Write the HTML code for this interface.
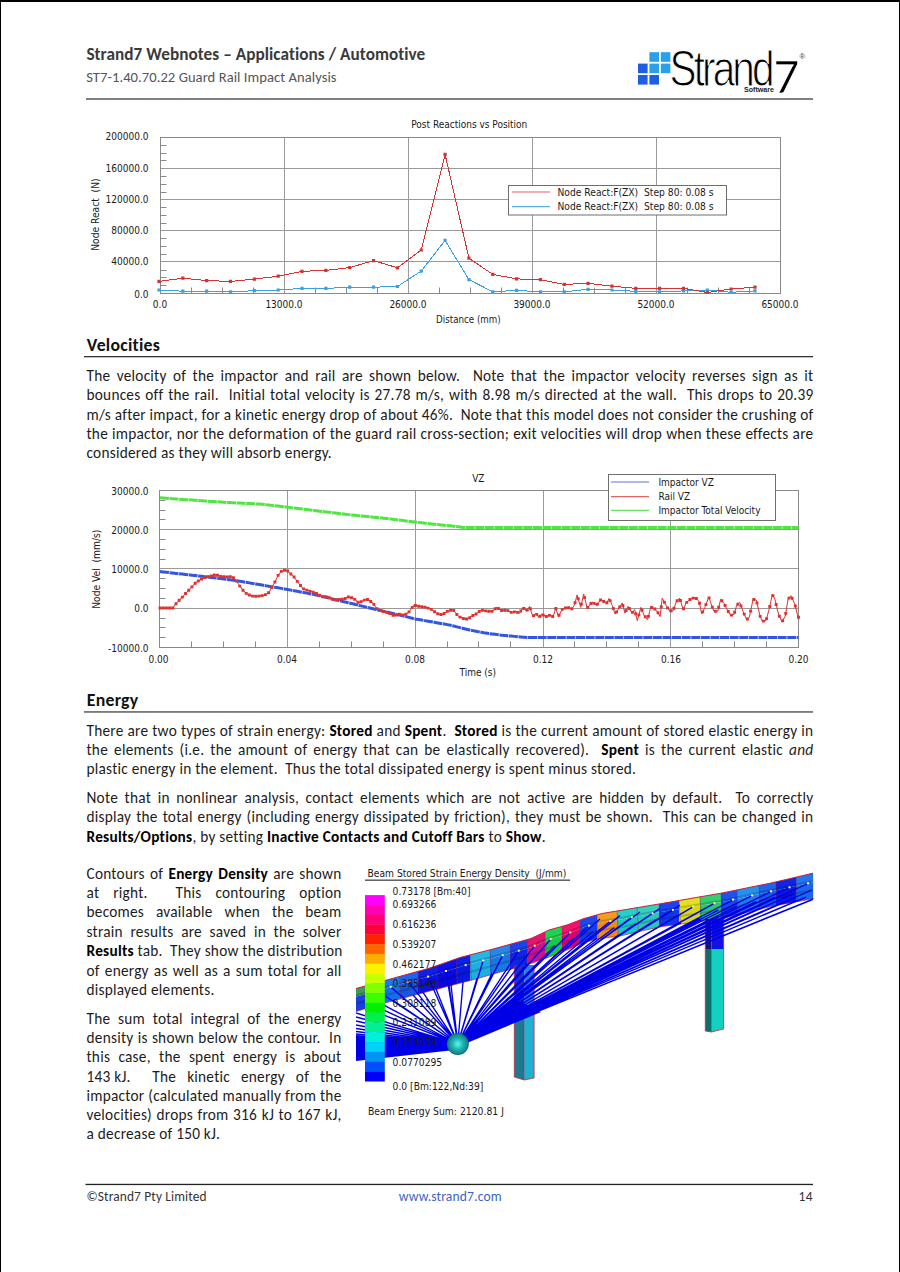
<!DOCTYPE html>
<html><head><meta charset="utf-8"><title>Strand7 Webnotes – Guard Rail Impact Analysis</title>
<style>
html,body{margin:0;padding:0;background:#fff;}
#pg{position:relative;width:900px;height:1272px;overflow:hidden;background:#fff;}
#pg svg{position:absolute;left:0;top:0;}
.fr{position:absolute;background:#000;}
.b{position:absolute;font-family:"Carlito", "Liberation Sans", sans-serif;font-size:15.3px;line-height:19.4px;letter-spacing:0.245px;color:#1c1c1c;white-space:nowrap;}
.b b{color:#000;}
.j{text-align:justify;text-align-last:justify;}
.l{text-align:left;}
.h{position:absolute;left:86.8px;letter-spacing:0.25px;font-family:"Carlito", "Liberation Sans", sans-serif;font-weight:700;font-size:17.8px;line-height:22px;color:#111;white-space:nowrap;}
.title{position:absolute;left:86.4px;letter-spacing:0.06px;font-family:"Carlito", "Liberation Sans", sans-serif;font-weight:700;font-size:17.2px;line-height:20px;color:#3a3a3a;white-space:nowrap;}
.sub{position:absolute;left:86.2px;letter-spacing:0.05px;font-family:"Carlito", "Liberation Sans", sans-serif;font-size:14.6px;line-height:18px;color:#555;white-space:nowrap;}
.ft{position:absolute;letter-spacing:0.13px;font-family:"Carlito", "Liberation Sans", sans-serif;font-size:13.4px;line-height:16px;color:#333;white-space:nowrap;}
</style></head>
<body><div id="pg">
<svg width="900" height="1272" viewBox="0 0 900 1272">
<rect x="86" y="98.3" width="727" height="1.4" fill="#4a4a4a"/>
<rect x="649.4" y="52.2" width="9.6" height="9.6" fill="#2aa0ea"/>
<rect x="660.8" y="52.2" width="9.6" height="9.6" fill="#2aa0ea"/>
<rect x="638.0" y="63.6" width="9.6" height="9.6" fill="#1d5ee6"/>
<rect x="649.4" y="63.6" width="9.6" height="9.6" fill="#2aa0ea"/>
<rect x="660.8" y="63.6" width="9.6" height="9.6" fill="#2aa0ea"/>
<rect x="638.0" y="75.0" width="9.6" height="9.6" fill="#1d5ee6"/>
<rect x="649.4" y="75.0" width="9.6" height="9.6" fill="#1d5ee6"/>
<text x="0" y="0" transform="translate(669.6 86.2) scale(0.80 1)" font-family="Liberation Sans, sans-serif" font-size="50.6" letter-spacing="-3.6" fill="#000" stroke="#fff" stroke-width="1.1">Strand</text>
<text x="0" y="0" transform="translate(773.4 93.4) scale(1.04 1)" font-family="Carlito, Liberation Sans, sans-serif" font-size="49" fill="#000" stroke="#fff" stroke-width="0.6">7</text>
<text x="744" y="91.6" font-family="Liberation Sans, sans-serif" font-size="7.3" font-weight="700" fill="#222" textLength="30" lengthAdjust="spacingAndGlyphs">Software</text>
<text x="799.5" y="58.5" font-family="Liberation Sans, sans-serif" font-size="7.5" fill="#333">®</text>
<line x1="160.5" y1="168.5" x2="780.5" y2="168.5" stroke="#9a9a9a" stroke-width="1"/>
<line x1="160.5" y1="199.5" x2="780.5" y2="199.5" stroke="#9a9a9a" stroke-width="1"/>
<line x1="160.5" y1="230.5" x2="780.5" y2="230.5" stroke="#9a9a9a" stroke-width="1"/>
<line x1="160.5" y1="261.5" x2="780.5" y2="261.5" stroke="#9a9a9a" stroke-width="1"/>
<line x1="284.5" y1="137.5" x2="284.5" y2="293.5" stroke="#9a9a9a" stroke-width="1"/>
<line x1="408.5" y1="137.5" x2="408.5" y2="293.5" stroke="#9a9a9a" stroke-width="1"/>
<line x1="532.5" y1="137.5" x2="532.5" y2="293.5" stroke="#9a9a9a" stroke-width="1"/>
<line x1="656.5" y1="137.5" x2="656.5" y2="293.5" stroke="#9a9a9a" stroke-width="1"/>
<rect x="160.5" y="137.5" width="620.0" height="156.0" fill="none" stroke="#8a8a8a" stroke-width="1"/>
<line x1="160.5" y1="285.5" x2="166.5" y2="285.5" stroke="#8a8a8a" stroke-width="1"/>
<line x1="160.5" y1="277.5" x2="166.5" y2="277.5" stroke="#8a8a8a" stroke-width="1"/>
<line x1="160.5" y1="270.5" x2="166.5" y2="270.5" stroke="#8a8a8a" stroke-width="1"/>
<line x1="160.5" y1="254.5" x2="166.5" y2="254.5" stroke="#8a8a8a" stroke-width="1"/>
<line x1="160.5" y1="246.5" x2="166.5" y2="246.5" stroke="#8a8a8a" stroke-width="1"/>
<line x1="160.5" y1="238.5" x2="166.5" y2="238.5" stroke="#8a8a8a" stroke-width="1"/>
<line x1="160.5" y1="223.5" x2="166.5" y2="223.5" stroke="#8a8a8a" stroke-width="1"/>
<line x1="160.5" y1="215.5" x2="166.5" y2="215.5" stroke="#8a8a8a" stroke-width="1"/>
<line x1="160.5" y1="207.5" x2="166.5" y2="207.5" stroke="#8a8a8a" stroke-width="1"/>
<line x1="160.5" y1="192.5" x2="166.5" y2="192.5" stroke="#8a8a8a" stroke-width="1"/>
<line x1="160.5" y1="184.5" x2="166.5" y2="184.5" stroke="#8a8a8a" stroke-width="1"/>
<line x1="160.5" y1="176.5" x2="166.5" y2="176.5" stroke="#8a8a8a" stroke-width="1"/>
<line x1="160.5" y1="160.5" x2="166.5" y2="160.5" stroke="#8a8a8a" stroke-width="1"/>
<line x1="160.5" y1="153.5" x2="166.5" y2="153.5" stroke="#8a8a8a" stroke-width="1"/>
<line x1="160.5" y1="145.5" x2="166.5" y2="145.5" stroke="#8a8a8a" stroke-width="1"/>
<line x1="191.5" y1="287.5" x2="191.5" y2="293.5" stroke="#8a8a8a" stroke-width="1"/>
<line x1="222.5" y1="287.5" x2="222.5" y2="293.5" stroke="#8a8a8a" stroke-width="1"/>
<line x1="253.5" y1="287.5" x2="253.5" y2="293.5" stroke="#8a8a8a" stroke-width="1"/>
<line x1="315.5" y1="287.5" x2="315.5" y2="293.5" stroke="#8a8a8a" stroke-width="1"/>
<line x1="346.5" y1="287.5" x2="346.5" y2="293.5" stroke="#8a8a8a" stroke-width="1"/>
<line x1="377.5" y1="287.5" x2="377.5" y2="293.5" stroke="#8a8a8a" stroke-width="1"/>
<line x1="439.5" y1="287.5" x2="439.5" y2="293.5" stroke="#8a8a8a" stroke-width="1"/>
<line x1="470.5" y1="287.5" x2="470.5" y2="293.5" stroke="#8a8a8a" stroke-width="1"/>
<line x1="501.5" y1="287.5" x2="501.5" y2="293.5" stroke="#8a8a8a" stroke-width="1"/>
<line x1="563.5" y1="287.5" x2="563.5" y2="293.5" stroke="#8a8a8a" stroke-width="1"/>
<line x1="594.5" y1="287.5" x2="594.5" y2="293.5" stroke="#8a8a8a" stroke-width="1"/>
<line x1="625.5" y1="287.5" x2="625.5" y2="293.5" stroke="#8a8a8a" stroke-width="1"/>
<line x1="687.5" y1="287.5" x2="687.5" y2="293.5" stroke="#8a8a8a" stroke-width="1"/>
<line x1="718.5" y1="287.5" x2="718.5" y2="293.5" stroke="#8a8a8a" stroke-width="1"/>
<line x1="749.5" y1="287.5" x2="749.5" y2="293.5" stroke="#8a8a8a" stroke-width="1"/>
<text x="148.5" y="140.4" text-anchor="end" font-family='"DejaVu Sans Condensed", "DejaVu Sans", "Liberation Sans", sans-serif' font-size="10.0" fill="#1a1a1a" >200000.0</text>
<text x="148.5" y="171.5" text-anchor="end" font-family='"DejaVu Sans Condensed", "DejaVu Sans", "Liberation Sans", sans-serif' font-size="10.0" fill="#1a1a1a" >160000.0</text>
<text x="148.5" y="202.6" text-anchor="end" font-family='"DejaVu Sans Condensed", "DejaVu Sans", "Liberation Sans", sans-serif' font-size="10.0" fill="#1a1a1a" >120000.0</text>
<text x="148.5" y="233.7" text-anchor="end" font-family='"DejaVu Sans Condensed", "DejaVu Sans", "Liberation Sans", sans-serif' font-size="10.0" fill="#1a1a1a" >80000.0</text>
<text x="148.5" y="264.8" text-anchor="end" font-family='"DejaVu Sans Condensed", "DejaVu Sans", "Liberation Sans", sans-serif' font-size="10.0" fill="#1a1a1a" >40000.0</text>
<text x="148.5" y="298.0" text-anchor="end" font-family='"DejaVu Sans Condensed", "DejaVu Sans", "Liberation Sans", sans-serif' font-size="10.0" fill="#1a1a1a" >0.0</text>
<text x="160.0" y="308.3" text-anchor="middle" font-family='"DejaVu Sans Condensed", "DejaVu Sans", "Liberation Sans", sans-serif' font-size="10.0" fill="#1a1a1a" >0.0</text>
<text x="284.0" y="308.3" text-anchor="middle" font-family='"DejaVu Sans Condensed", "DejaVu Sans", "Liberation Sans", sans-serif' font-size="10.0" fill="#1a1a1a" >13000.0</text>
<text x="408.0" y="308.3" text-anchor="middle" font-family='"DejaVu Sans Condensed", "DejaVu Sans", "Liberation Sans", sans-serif' font-size="10.0" fill="#1a1a1a" >26000.0</text>
<text x="532.0" y="308.3" text-anchor="middle" font-family='"DejaVu Sans Condensed", "DejaVu Sans", "Liberation Sans", sans-serif' font-size="10.0" fill="#1a1a1a" >39000.0</text>
<text x="656.0" y="308.3" text-anchor="middle" font-family='"DejaVu Sans Condensed", "DejaVu Sans", "Liberation Sans", sans-serif' font-size="10.0" fill="#1a1a1a" >52000.0</text>
<text x="780.0" y="308.3" text-anchor="middle" font-family='"DejaVu Sans Condensed", "DejaVu Sans", "Liberation Sans", sans-serif' font-size="10.0" fill="#1a1a1a" >65000.0</text>
<text x="469.3" y="128.2" text-anchor="middle" font-family='"DejaVu Sans Condensed", "DejaVu Sans", "Liberation Sans", sans-serif' font-size="10.0" fill="#1a1a1a" >Post Reactions vs Position</text>
<text x="468.4" y="322.5" text-anchor="middle" font-family='"DejaVu Sans Condensed", "DejaVu Sans", "Liberation Sans", sans-serif' font-size="9.7" fill="#1a1a1a" >Distance (mm)</text>
<text transform="translate(98.6 214.6) rotate(-90)" text-anchor="middle" font-family='"DejaVu Sans Condensed", "DejaVu Sans", "Liberation Sans", sans-serif' font-size="10.2" fill="#1a1a1a" xml:space="preserve">Node React  (N)</text>
<polyline points="159.00,290.00 182.84,291.20 206.68,291.20 230.52,291.80 254.36,290.70 278.20,290.00 302.04,288.40 325.88,288.40 349.72,287.20 373.56,287.20 397.40,286.50 421.24,271.10 445.08,240.40 468.92,279.60 492.76,291.80 516.60,290.40 540.44,291.80 564.28,291.80 588.12,289.30 611.96,290.00 635.80,291.30 659.64,291.80 683.48,290.90 707.32,290.00 731.16,292.30 755.00,290.90" fill="none" stroke="#3aa0e2" stroke-width="1.0" stroke-linejoin="round" shape-rendering="crispEdges"/>
<path d="M157.40 288.40h3.2v3.2h-3.2zM181.24 289.60h3.2v3.2h-3.2zM205.08 289.60h3.2v3.2h-3.2zM228.92 290.20h3.2v3.2h-3.2zM252.76 289.10h3.2v3.2h-3.2zM276.60 288.40h3.2v3.2h-3.2zM300.44 286.80h3.2v3.2h-3.2zM324.28 286.80h3.2v3.2h-3.2zM348.12 285.60h3.2v3.2h-3.2zM371.96 285.60h3.2v3.2h-3.2zM395.80 284.90h3.2v3.2h-3.2zM419.64 269.50h3.2v3.2h-3.2zM443.48 238.80h3.2v3.2h-3.2zM467.32 278.00h3.2v3.2h-3.2zM491.16 290.20h3.2v3.2h-3.2zM515.00 288.80h3.2v3.2h-3.2zM538.84 290.20h3.2v3.2h-3.2zM562.68 290.20h3.2v3.2h-3.2zM586.52 287.70h3.2v3.2h-3.2zM610.36 288.40h3.2v3.2h-3.2zM634.20 289.70h3.2v3.2h-3.2zM658.04 290.20h3.2v3.2h-3.2zM681.88 289.30h3.2v3.2h-3.2zM705.72 288.40h3.2v3.2h-3.2zM729.56 290.70h3.2v3.2h-3.2zM753.40 289.30h3.2v3.2h-3.2z" fill="#3aa0e2"/>
<polyline points="159.00,281.40 182.84,278.20 206.68,280.60 230.52,281.40 254.36,279.10 278.20,276.20 302.04,271.30 325.88,270.40 349.72,267.60 373.56,260.60 397.40,267.80 421.24,250.00 445.08,154.40 468.92,258.20 492.76,274.40 516.60,278.90 540.44,279.60 564.28,284.40 588.12,283.30 611.96,286.20 635.80,288.30 659.64,288.30 683.48,288.30 707.32,292.50 731.16,289.00 755.00,287.10" fill="none" stroke="#d23434" stroke-width="1.0" stroke-linejoin="round" shape-rendering="crispEdges"/>
<path d="M157.40 279.80h3.2v3.2h-3.2zM181.24 276.60h3.2v3.2h-3.2zM205.08 279.00h3.2v3.2h-3.2zM228.92 279.80h3.2v3.2h-3.2zM252.76 277.50h3.2v3.2h-3.2zM276.60 274.60h3.2v3.2h-3.2zM300.44 269.70h3.2v3.2h-3.2zM324.28 268.80h3.2v3.2h-3.2zM348.12 266.00h3.2v3.2h-3.2zM371.96 259.00h3.2v3.2h-3.2zM395.80 266.20h3.2v3.2h-3.2zM419.64 248.40h3.2v3.2h-3.2zM443.48 152.80h3.2v3.2h-3.2zM467.32 256.60h3.2v3.2h-3.2zM491.16 272.80h3.2v3.2h-3.2zM515.00 277.30h3.2v3.2h-3.2zM538.84 278.00h3.2v3.2h-3.2zM562.68 282.80h3.2v3.2h-3.2zM586.52 281.70h3.2v3.2h-3.2zM610.36 284.60h3.2v3.2h-3.2zM634.20 286.70h3.2v3.2h-3.2zM658.04 286.70h3.2v3.2h-3.2zM681.88 286.70h3.2v3.2h-3.2zM705.72 290.90h3.2v3.2h-3.2zM729.56 287.40h3.2v3.2h-3.2zM753.40 285.50h3.2v3.2h-3.2z" fill="#d23434"/>
<rect x="508.5" y="185.5" width="218" height="29.5" fill="#fff" stroke="#6e6e6e" stroke-width="1"/>
<line x1="512" y1="192" x2="550" y2="192" stroke="#dc6464" stroke-width="1.2"/>
<line x1="512" y1="206.7" x2="550" y2="206.7" stroke="#5aaee6" stroke-width="1.2"/>
<text x="557.5" y="195.6" text-anchor="start" font-family='"DejaVu Sans Condensed", "DejaVu Sans", "Liberation Sans", sans-serif' font-size="10.2" fill="#1a1a1a" xml:space="preserve">Node React:F(ZX)&#160; Step 80: 0.08 s</text>
<text x="557.5" y="210.2" text-anchor="start" font-family='"DejaVu Sans Condensed", "DejaVu Sans", "Liberation Sans", sans-serif' font-size="10.2" fill="#1a1a1a" xml:space="preserve">Node React:F(ZX)&#160; Step 80: 0.08 s</text>
<line x1="159.5" y1="529.5" x2="798.5" y2="529.5" stroke="#9a9a9a" stroke-width="1"/>
<line x1="159.5" y1="568.5" x2="798.5" y2="568.5" stroke="#9a9a9a" stroke-width="1"/>
<line x1="159.5" y1="608.5" x2="798.5" y2="608.5" stroke="#9a9a9a" stroke-width="1"/>
<line x1="287.5" y1="490.5" x2="287.5" y2="647.5" stroke="#9a9a9a" stroke-width="1"/>
<line x1="415.5" y1="490.5" x2="415.5" y2="647.5" stroke="#9a9a9a" stroke-width="1"/>
<line x1="543.5" y1="490.5" x2="543.5" y2="647.5" stroke="#9a9a9a" stroke-width="1"/>
<line x1="670.5" y1="490.5" x2="670.5" y2="647.5" stroke="#9a9a9a" stroke-width="1"/>
<rect x="159.5" y="490.5" width="639.0" height="157.0" fill="none" stroke="#8a8a8a" stroke-width="1"/>
<line x1="159.5" y1="637.5" x2="165.5" y2="637.5" stroke="#8a8a8a" stroke-width="1"/>
<line x1="159.5" y1="627.5" x2="165.5" y2="627.5" stroke="#8a8a8a" stroke-width="1"/>
<line x1="159.5" y1="618.5" x2="165.5" y2="618.5" stroke="#8a8a8a" stroke-width="1"/>
<line x1="159.5" y1="598.5" x2="165.5" y2="598.5" stroke="#8a8a8a" stroke-width="1"/>
<line x1="159.5" y1="588.5" x2="165.5" y2="588.5" stroke="#8a8a8a" stroke-width="1"/>
<line x1="159.5" y1="578.5" x2="165.5" y2="578.5" stroke="#8a8a8a" stroke-width="1"/>
<line x1="159.5" y1="559.5" x2="165.5" y2="559.5" stroke="#8a8a8a" stroke-width="1"/>
<line x1="159.5" y1="549.5" x2="165.5" y2="549.5" stroke="#8a8a8a" stroke-width="1"/>
<line x1="159.5" y1="539.5" x2="165.5" y2="539.5" stroke="#8a8a8a" stroke-width="1"/>
<line x1="159.5" y1="519.5" x2="165.5" y2="519.5" stroke="#8a8a8a" stroke-width="1"/>
<line x1="159.5" y1="510.5" x2="165.5" y2="510.5" stroke="#8a8a8a" stroke-width="1"/>
<line x1="159.5" y1="500.5" x2="165.5" y2="500.5" stroke="#8a8a8a" stroke-width="1"/>
<line x1="191.5" y1="641.5" x2="191.5" y2="647.5" stroke="#8a8a8a" stroke-width="1"/>
<line x1="223.5" y1="641.5" x2="223.5" y2="647.5" stroke="#8a8a8a" stroke-width="1"/>
<line x1="255.5" y1="641.5" x2="255.5" y2="647.5" stroke="#8a8a8a" stroke-width="1"/>
<line x1="319.5" y1="641.5" x2="319.5" y2="647.5" stroke="#8a8a8a" stroke-width="1"/>
<line x1="351.5" y1="641.5" x2="351.5" y2="647.5" stroke="#8a8a8a" stroke-width="1"/>
<line x1="383.5" y1="641.5" x2="383.5" y2="647.5" stroke="#8a8a8a" stroke-width="1"/>
<line x1="447.5" y1="641.5" x2="447.5" y2="647.5" stroke="#8a8a8a" stroke-width="1"/>
<line x1="478.5" y1="641.5" x2="478.5" y2="647.5" stroke="#8a8a8a" stroke-width="1"/>
<line x1="510.5" y1="641.5" x2="510.5" y2="647.5" stroke="#8a8a8a" stroke-width="1"/>
<line x1="574.5" y1="641.5" x2="574.5" y2="647.5" stroke="#8a8a8a" stroke-width="1"/>
<line x1="606.5" y1="641.5" x2="606.5" y2="647.5" stroke="#8a8a8a" stroke-width="1"/>
<line x1="638.5" y1="641.5" x2="638.5" y2="647.5" stroke="#8a8a8a" stroke-width="1"/>
<line x1="702.5" y1="641.5" x2="702.5" y2="647.5" stroke="#8a8a8a" stroke-width="1"/>
<line x1="734.5" y1="641.5" x2="734.5" y2="647.5" stroke="#8a8a8a" stroke-width="1"/>
<line x1="766.5" y1="641.5" x2="766.5" y2="647.5" stroke="#8a8a8a" stroke-width="1"/>
<text x="148.5" y="494.5" text-anchor="end" font-family='"DejaVu Sans Condensed", "DejaVu Sans", "Liberation Sans", sans-serif' font-size="10.0" fill="#1a1a1a" >30000.0</text>
<text x="148.5" y="533.8" text-anchor="end" font-family='"DejaVu Sans Condensed", "DejaVu Sans", "Liberation Sans", sans-serif' font-size="10.0" fill="#1a1a1a" >20000.0</text>
<text x="148.5" y="572.8" text-anchor="end" font-family='"DejaVu Sans Condensed", "DejaVu Sans", "Liberation Sans", sans-serif' font-size="10.0" fill="#1a1a1a" >10000.0</text>
<text x="148.5" y="612.1" text-anchor="end" font-family='"DejaVu Sans Condensed", "DejaVu Sans", "Liberation Sans", sans-serif' font-size="10.0" fill="#1a1a1a" >0.0</text>
<text x="148.5" y="651.8" text-anchor="end" font-family='"DejaVu Sans Condensed", "DejaVu Sans", "Liberation Sans", sans-serif' font-size="10.0" fill="#1a1a1a" >-10000.0</text>
<text x="158.5" y="662.6" text-anchor="middle" font-family='"DejaVu Sans Condensed", "DejaVu Sans", "Liberation Sans", sans-serif' font-size="10.0" fill="#1a1a1a" >0.00</text>
<text x="287.0" y="662.6" text-anchor="middle" font-family='"DejaVu Sans Condensed", "DejaVu Sans", "Liberation Sans", sans-serif' font-size="10.0" fill="#1a1a1a" >0.04</text>
<text x="415.0" y="662.6" text-anchor="middle" font-family='"DejaVu Sans Condensed", "DejaVu Sans", "Liberation Sans", sans-serif' font-size="10.0" fill="#1a1a1a" >0.08</text>
<text x="543.0" y="662.6" text-anchor="middle" font-family='"DejaVu Sans Condensed", "DejaVu Sans", "Liberation Sans", sans-serif' font-size="10.0" fill="#1a1a1a" >0.12</text>
<text x="671.0" y="662.6" text-anchor="middle" font-family='"DejaVu Sans Condensed", "DejaVu Sans", "Liberation Sans", sans-serif' font-size="10.0" fill="#1a1a1a" >0.16</text>
<text x="798.5" y="662.6" text-anchor="middle" font-family='"DejaVu Sans Condensed", "DejaVu Sans", "Liberation Sans", sans-serif' font-size="10.0" fill="#1a1a1a" >0.20</text>
<text x="478.3" y="482.2" text-anchor="middle" font-family='"DejaVu Sans Condensed", "DejaVu Sans", "Liberation Sans", sans-serif' font-size="10.0" fill="#1a1a1a" >VZ</text>
<text x="477.8" y="676.3" text-anchor="middle" font-family='"DejaVu Sans Condensed", "DejaVu Sans", "Liberation Sans", sans-serif' font-size="10.0" fill="#1a1a1a" >Time (s)</text>
<text transform="translate(100.2 569.2) rotate(-90)" text-anchor="middle" font-family='"DejaVu Sans Condensed", "DejaVu Sans", "Liberation Sans", sans-serif' font-size="10.2" fill="#1a1a1a" xml:space="preserve">Node Vel  (mm/s)</text>
<polyline points="160.00,497.80 163.19,498.01 166.38,498.24 169.58,498.47 172.77,498.71 175.96,498.94 179.16,499.17 182.35,499.40 185.54,499.63 188.73,499.86 191.93,500.09 195.12,500.31 198.31,500.52 201.50,500.74 204.69,500.95 207.89,501.17 211.08,501.38 214.27,501.60 217.47,501.82 220.66,502.03 223.85,502.25 227.04,502.45 230.24,502.61 233.43,502.77 236.62,502.93 239.81,503.09 243.00,503.25 246.20,503.42 249.39,503.58 252.58,503.74 255.78,503.90 258.97,504.06 262.16,504.25 265.35,504.63 268.55,505.00 271.74,505.37 274.93,505.74 278.12,506.11 281.31,506.48 284.51,506.86 287.70,507.24 290.89,507.63 294.09,508.02 297.28,508.42 300.47,508.81 303.66,509.20 306.86,509.60 310.05,509.99 313.24,510.38 316.43,510.77 319.62,511.16 322.82,511.54 326.01,511.93 329.20,512.32 332.39,512.70 335.59,513.09 338.78,513.47 341.97,513.86 345.16,514.24 348.36,514.63 351.55,514.99 354.74,515.31 357.94,515.62 361.13,515.94 364.32,516.25 367.51,516.57 370.71,516.88 373.90,517.20 377.09,517.51 380.28,517.83 383.48,518.14 386.67,518.47 389.86,518.87 393.05,519.28 396.25,519.68 399.44,520.08 402.63,520.49 405.82,520.89 409.01,521.29 412.21,521.70 415.40,522.09 418.59,522.45 421.79,522.81 424.98,523.17 428.17,523.53 431.36,523.89 434.56,524.25 437.75,524.61 440.94,524.95 444.13,525.25 447.32,525.55 450.52,525.86 453.71,526.21 456.90,526.61 460.10,527.01 463.29,527.41 466.48,527.50 469.67,527.50 472.87,527.50 476.06,527.50 479.25,527.50 482.44,527.51 485.63,527.51 488.83,527.51 492.02,527.51 495.21,527.51 498.40,527.51 501.60,527.51 504.79,527.51 507.98,527.51 511.18,527.51 514.37,527.52 517.56,527.52 520.75,527.52 523.94,527.52 527.14,527.52 530.33,527.52 533.52,527.52 536.71,527.52 539.91,527.52 543.10,527.52 546.29,527.52 549.49,527.53 552.68,527.53 555.87,527.53 559.06,527.53 562.25,527.53 565.45,527.53 568.64,527.53 571.83,527.53 575.02,527.53 578.22,527.53 581.41,527.54 584.60,527.54 587.80,527.54 590.99,527.54 594.18,527.54 597.37,527.54 600.57,527.54 603.76,527.54 606.95,527.54 610.14,527.54 613.34,527.54 616.53,527.55 619.72,527.55 622.91,527.55 626.11,527.55 629.30,527.55 632.49,527.55 635.68,527.55 638.88,527.55 642.07,527.55 645.26,527.55 648.45,527.56 651.64,527.56 654.84,527.56 658.03,527.56 661.22,527.56 664.41,527.56 667.61,527.56 670.80,527.56 673.99,527.56 677.18,527.56 680.38,527.56 683.57,527.57 686.76,527.57 689.96,527.57 693.15,527.57 696.34,527.57 699.53,527.57 702.73,527.57 705.92,527.57 709.11,527.57 712.30,527.57 715.50,527.58 718.69,527.58 721.88,527.58 725.07,527.58 728.26,527.58 731.46,527.58 734.65,527.58 737.84,527.58 741.03,527.58 744.23,527.58 747.42,527.58 750.61,527.59 753.80,527.59 757.00,527.59 760.19,527.59 763.38,527.59 766.58,527.59 769.77,527.59 772.96,527.59 776.15,527.59 779.35,527.59 782.54,527.60 785.73,527.60 788.92,527.60 792.12,527.60 795.31,527.60 798.50,527.60" fill="none" stroke="#50e642" stroke-width="3.0" stroke-linejoin="round" stroke-dasharray="9 0.6"/>
<polyline points="160.00,571.60 163.19,571.96 166.38,572.32 169.58,572.68 172.77,573.04 175.96,573.40 179.16,573.75 182.35,574.11 185.54,574.47 188.73,574.83 191.93,575.19 195.12,575.55 198.31,575.91 201.50,576.27 204.69,576.63 207.89,576.99 211.08,577.39 214.27,577.79 217.47,578.19 220.66,578.59 223.85,579.00 227.04,579.40 230.24,579.80 233.43,580.20 236.62,580.68 239.81,581.23 243.00,581.78 246.20,582.33 249.39,582.88 252.58,583.43 255.78,583.98 258.97,584.53 262.16,585.08 265.35,585.64 268.55,586.19 271.74,586.74 274.93,587.29 278.12,587.84 281.31,588.39 284.51,588.94 287.70,589.51 290.89,590.12 294.09,590.72 297.28,591.33 300.47,591.94 303.66,592.54 306.86,593.15 310.05,593.76 313.24,594.37 316.43,595.05 319.62,595.82 322.82,596.59 326.01,597.37 329.20,598.14 332.39,598.91 335.59,599.68 338.78,600.46 341.97,601.23 345.16,602.00 348.36,602.78 351.55,603.55 354.74,604.32 357.94,605.09 361.13,605.87 364.32,606.64 367.51,607.41 370.71,608.19 373.90,608.96 377.09,609.73 380.28,610.50 383.48,611.27 386.67,612.04 389.86,612.80 393.05,613.57 396.25,614.34 399.44,615.11 402.63,615.88 405.82,616.64 409.01,617.41 412.21,618.18 415.40,618.94 418.59,619.50 421.79,620.07 424.98,620.64 428.17,621.21 431.36,621.78 434.56,622.35 437.75,622.92 440.94,623.49 444.13,624.05 447.32,624.62 450.52,625.23 453.71,626.04 456.90,626.85 460.10,627.65 463.29,628.46 466.48,629.27 469.67,629.97 472.87,630.60 476.06,631.22 479.25,631.85 482.44,632.48 485.63,633.10 488.83,633.52 492.02,633.93 495.21,634.35 498.40,634.76 501.60,635.18 504.79,635.53 507.98,635.81 511.18,636.10 514.37,636.38 517.56,636.66 520.75,636.94 523.94,637.22 527.14,637.51 530.33,637.60 533.52,637.60 536.71,637.60 539.91,637.60 543.10,637.60 546.29,637.60 549.49,637.60 552.68,637.60 555.87,637.60 559.06,637.60 562.25,637.60 565.45,637.60 568.64,637.60 571.83,637.60 575.02,637.60 578.22,637.60 581.41,637.60 584.60,637.60 587.80,637.60 590.99,637.60 594.18,637.60 597.37,637.60 600.57,637.60 603.76,637.60 606.95,637.60 610.14,637.60 613.34,637.60 616.53,637.60 619.72,637.60 622.91,637.60 626.11,637.60 629.30,637.60 632.49,637.60 635.68,637.60 638.88,637.60 642.07,637.60 645.26,637.60 648.45,637.60 651.64,637.60 654.84,637.60 658.03,637.60 661.22,637.60 664.41,637.60 667.61,637.60 670.80,637.60 673.99,637.60 677.18,637.60 680.38,637.60 683.57,637.60 686.76,637.60 689.96,637.60 693.15,637.60 696.34,637.60 699.53,637.60 702.73,637.60 705.92,637.60 709.11,637.60 712.30,637.60 715.50,637.60 718.69,637.60 721.88,637.60 725.07,637.60 728.26,637.60 731.46,637.60 734.65,637.60 737.84,637.60 741.03,637.60 744.23,637.60 747.42,637.60 750.61,637.60 753.80,637.60 757.00,637.60 760.19,637.60 763.38,637.60 766.58,637.60 769.77,637.60 772.96,637.60 776.15,637.60 779.35,637.60 782.54,637.60 785.73,637.60 788.92,637.60 792.12,637.60 795.31,637.60 798.50,637.60" fill="none" stroke="#3356e0" stroke-width="3.0" stroke-linejoin="round" stroke-dasharray="9 0.6"/>
<polyline points="160.00,608.00 163.19,608.00 166.38,608.00 169.58,608.00 172.77,608.00 175.96,603.76 179.16,600.28 182.35,597.16 185.54,593.54 188.73,590.27 191.93,586.89 195.12,583.24 198.31,580.93 201.50,579.07 204.69,577.65 207.89,576.80 211.08,576.07 214.27,574.98 217.47,575.29 220.66,576.35 223.85,576.69 227.04,576.84 230.24,576.63 233.43,577.70 236.62,581.11 239.81,586.16 243.00,590.20 246.20,593.40 249.39,595.01 252.58,596.14 255.78,596.32 258.97,596.14 262.16,595.67 265.35,594.67 268.55,592.75 271.74,587.53 274.93,581.95 278.12,575.42 281.31,571.40 284.51,570.24 287.70,571.05 290.89,574.06 294.09,577.07 297.28,581.34 302.70,588.40 305.30,589.60 310.70,591.30 317.80,594.00 322.20,596.70 327.60,596.70 333.80,600.20 339.10,599.30 343.60,599.30 348.00,597.00 353.30,598.10 358.70,602.90 366.70,599.00 372.90,602.90 376.40,608.20 381.80,611.20 388.00,612.70 394.20,615.90 398.70,614.10 404.00,615.30 408.40,612.70 413.80,605.20 419.10,606.40 426.20,607.30 431.60,609.50 436.90,613.60 442.20,614.80 447.60,611.20 452.90,609.50 458.20,616.20 465.10,619.40 468.70,618.40 472.20,615.90 476.70,613.60 481.10,610.00 487.30,611.20 492.70,611.20 496.60,607.30 501.60,610.50 506.90,610.00 512.20,613.00 515.80,611.20 519.30,613.60 522.90,607.30 526.40,611.20 529.60,606.40 532.70,616.20 536.20,613.60 538.90,617.60 541.60,614.10 546.00,616.60 549.60,615.30 553.10,616.60 555.80,608.20 558.40,616.60 562.00,609.50 567.30,607.30 571.80,608.80 574.40,605.20 577.10,594.90 580.70,607.30 583.70,594.00 587.20,608.20 592.20,602.00 596.70,605.20 601.10,599.30 606.40,603.80 609.10,598.40 612.40,605.60 615.10,614.10 617.80,610.00 622.20,602.90 624.90,613.00 628.10,606.40 632.00,613.00 634.70,609.50 637.30,620.70 640.90,607.30 644.10,615.30 647.60,619.80 650.70,607.30 654.20,608.20 657.80,612.30 660.10,616.60 662.20,598.10 666.70,606.40 669.30,610.50 672.90,611.20 676.40,601.60 679.60,598.10 683.20,609.50 686.20,602.90 688.90,600.20 692.40,598.10 696.00,598.10 699.20,601.60 701.70,614.10 704.90,607.30 708.80,597.00 711.10,603.80 713.80,611.20 717.70,611.20 720.70,599.30 724.00,603.30 727.30,610.00 730.70,615.30 734.00,614.40 736.70,605.30 739.70,602.40 743.30,612.00 746.70,619.70 749.30,617.30 753.10,599.30 756.30,600.00 760.00,616.00 762.40,621.30 766.00,620.70 769.30,608.70 772.30,594.40 774.90,599.30 778.70,614.90 782.00,621.60 785.30,616.00 788.00,599.30 790.90,595.70 794.90,604.30 798.00,617.30" fill="none" stroke="#e03030" stroke-width="1.0" stroke-linejoin="round" />
<path d="M158.55 606.55h2.9v2.9h-2.9zM161.74 606.55h2.9v2.9h-2.9zM164.94 606.55h2.9v2.9h-2.9zM168.13 606.55h2.9v2.9h-2.9zM171.32 606.55h2.9v2.9h-2.9zM174.51 602.31h2.9v2.9h-2.9zM177.71 598.83h2.9v2.9h-2.9zM180.90 595.71h2.9v2.9h-2.9zM184.09 592.09h2.9v2.9h-2.9zM187.28 588.82h2.9v2.9h-2.9zM190.48 585.44h2.9v2.9h-2.9zM193.67 581.79h2.9v2.9h-2.9zM196.86 579.48h2.9v2.9h-2.9zM200.05 577.62h2.9v2.9h-2.9zM203.25 576.20h2.9v2.9h-2.9zM206.44 575.35h2.9v2.9h-2.9zM209.63 574.62h2.9v2.9h-2.9zM212.82 573.53h2.9v2.9h-2.9zM216.02 573.84h2.9v2.9h-2.9zM219.21 574.90h2.9v2.9h-2.9zM222.40 575.24h2.9v2.9h-2.9zM225.59 575.39h2.9v2.9h-2.9zM228.79 575.18h2.9v2.9h-2.9zM231.98 576.25h2.9v2.9h-2.9zM235.17 579.66h2.9v2.9h-2.9zM238.36 584.71h2.9v2.9h-2.9zM241.56 588.75h2.9v2.9h-2.9zM244.75 591.95h2.9v2.9h-2.9zM247.94 593.56h2.9v2.9h-2.9zM251.13 594.69h2.9v2.9h-2.9zM254.33 594.87h2.9v2.9h-2.9zM257.52 594.69h2.9v2.9h-2.9zM260.71 594.22h2.9v2.9h-2.9zM263.90 593.22h2.9v2.9h-2.9zM267.10 591.30h2.9v2.9h-2.9zM270.29 586.08h2.9v2.9h-2.9zM273.48 580.50h2.9v2.9h-2.9zM276.67 573.97h2.9v2.9h-2.9zM279.87 569.95h2.9v2.9h-2.9zM283.06 568.79h2.9v2.9h-2.9zM286.25 569.60h2.9v2.9h-2.9zM289.44 572.61h2.9v2.9h-2.9zM292.64 575.62h2.9v2.9h-2.9zM295.83 579.89h2.9v2.9h-2.9zM299.02 584.04h2.9v2.9h-2.9zM302.21 587.39h2.9v2.9h-2.9zM305.41 588.64h2.9v2.9h-2.9zM308.60 589.64h2.9v2.9h-2.9zM311.79 590.82h2.9v2.9h-2.9zM314.98 592.03h2.9v2.9h-2.9zM318.18 593.67h2.9v2.9h-2.9zM321.37 595.25h2.9v2.9h-2.9zM324.56 595.25h2.9v2.9h-2.9zM327.75 596.15h2.9v2.9h-2.9zM330.94 597.96h2.9v2.9h-2.9zM334.14 598.45h2.9v2.9h-2.9zM337.33 597.90h2.9v2.9h-2.9zM340.52 597.85h2.9v2.9h-2.9zM343.71 597.03h2.9v2.9h-2.9zM346.91 595.62h2.9v2.9h-2.9zM350.10 596.29h2.9v2.9h-2.9zM353.29 597.93h2.9v2.9h-2.9zM356.49 600.77h2.9v2.9h-2.9zM359.68 600.27h2.9v2.9h-2.9zM362.87 598.71h2.9v2.9h-2.9zM366.06 598.06h2.9v2.9h-2.9zM369.26 600.07h2.9v2.9h-2.9zM372.45 602.96h2.9v2.9h-2.9zM375.64 607.13h2.9v2.9h-2.9zM378.83 608.91h2.9v2.9h-2.9zM382.03 610.16h2.9v2.9h-2.9zM385.22 610.93h2.9v2.9h-2.9zM388.41 612.21h2.9v2.9h-2.9zM391.60 613.86h2.9v2.9h-2.9zM394.80 613.63h2.9v2.9h-2.9zM397.99 612.82h2.9v2.9h-2.9zM401.18 613.54h2.9v2.9h-2.9zM404.37 612.77h2.9v2.9h-2.9zM407.56 610.40h2.9v2.9h-2.9zM410.76 605.96h2.9v2.9h-2.9zM413.95 604.11h2.9v2.9h-2.9zM417.14 604.84h2.9v2.9h-2.9zM420.34 605.29h2.9v2.9h-2.9zM423.53 605.70h2.9v2.9h-2.9zM426.72 606.65h2.9v2.9h-2.9zM429.91 607.95h2.9v2.9h-2.9zM433.11 610.34h2.9v2.9h-2.9zM436.30 612.34h2.9v2.9h-2.9zM439.49 613.06h2.9v2.9h-2.9zM442.68 612.06h2.9v2.9h-2.9zM445.88 609.93h2.9v2.9h-2.9zM449.07 608.81h2.9v2.9h-2.9zM452.26 609.07h2.9v2.9h-2.9zM455.45 613.11h2.9v2.9h-2.9zM458.65 615.63h2.9v2.9h-2.9zM461.84 617.11h2.9v2.9h-2.9zM465.03 617.57h2.9v2.9h-2.9zM468.22 616.26h2.9v2.9h-2.9zM471.42 614.11h2.9v2.9h-2.9zM474.61 612.48h2.9v2.9h-2.9zM477.80 610.06h2.9v2.9h-2.9zM480.99 608.81h2.9v2.9h-2.9zM484.19 609.43h2.9v2.9h-2.9zM487.38 609.75h2.9v2.9h-2.9zM490.57 609.75h2.9v2.9h-2.9zM493.76 607.24h2.9v2.9h-2.9zM496.95 607.01h2.9v2.9h-2.9zM500.15 609.05h2.9v2.9h-2.9zM503.34 608.75h2.9v2.9h-2.9zM506.53 609.16h2.9v2.9h-2.9zM509.73 610.97h2.9v2.9h-2.9zM512.92 610.47h2.9v2.9h-2.9zM516.11 610.96h2.9v2.9h-2.9zM519.30 609.61h2.9v2.9h-2.9zM522.49 607.01h2.9v2.9h-2.9zM525.69 608.64h2.9v2.9h-2.9zM528.88 607.26h2.9v2.9h-2.9zM532.07 614.14h2.9v2.9h-2.9zM535.26 612.91h2.9v2.9h-2.9zM538.46 614.84h2.9v2.9h-2.9zM541.65 613.50h2.9v2.9h-2.9zM544.84 615.04h2.9v2.9h-2.9zM548.03 613.89h2.9v2.9h-2.9zM551.23 614.99h2.9v2.9h-2.9zM554.42 606.98h2.9v2.9h-2.9zM557.61 613.84h2.9v2.9h-2.9zM560.80 607.94h2.9v2.9h-2.9zM564.00 606.62h2.9v2.9h-2.9zM567.19 606.30h2.9v2.9h-2.9zM570.38 607.30h2.9v2.9h-2.9zM573.57 601.37h2.9v2.9h-2.9zM576.77 597.30h2.9v2.9h-2.9zM579.96 602.70h2.9v2.9h-2.9zM583.15 596.21h2.9v2.9h-2.9zM586.35 606.01h2.9v2.9h-2.9zM589.54 602.05h2.9v2.9h-2.9zM592.73 601.96h2.9v2.9h-2.9zM595.92 602.85h2.9v2.9h-2.9zM599.12 598.57h2.9v2.9h-2.9zM602.31 600.11h2.9v2.9h-2.9zM605.50 601.25h2.9v2.9h-2.9zM608.69 599.22h2.9v2.9h-2.9zM611.88 607.09h2.9v2.9h-2.9zM615.08 610.48h2.9v2.9h-2.9zM618.27 605.45h2.9v2.9h-2.9zM621.46 604.12h2.9v2.9h-2.9zM624.65 609.06h2.9v2.9h-2.9zM627.85 606.98h2.9v2.9h-2.9zM631.04 610.91h2.9v2.9h-2.9zM634.23 612.28h2.9v2.9h-2.9zM637.42 613.39h2.9v2.9h-2.9zM640.62 608.77h2.9v2.9h-2.9zM643.81 615.34h2.9v2.9h-2.9zM647.00 614.91h2.9v2.9h-2.9zM650.19 606.09h2.9v2.9h-2.9zM653.39 607.48h2.9v2.9h-2.9zM656.58 611.28h2.9v2.9h-2.9zM659.77 605.26h2.9v2.9h-2.9zM662.96 600.74h2.9v2.9h-2.9zM666.16 606.38h2.9v2.9h-2.9zM669.35 609.34h2.9v2.9h-2.9zM672.54 606.75h2.9v2.9h-2.9zM675.73 599.29h2.9v2.9h-2.9zM678.93 599.11h2.9v2.9h-2.9zM682.12 607.24h2.9v2.9h-2.9zM685.31 600.89h2.9v2.9h-2.9zM688.50 598.12h2.9v2.9h-2.9zM691.70 596.65h2.9v2.9h-2.9zM694.89 597.02h2.9v2.9h-2.9zM698.08 601.81h2.9v2.9h-2.9zM701.27 610.47h2.9v2.9h-2.9zM704.47 603.16h2.9v2.9h-2.9zM707.66 596.47h2.9v2.9h-2.9zM710.85 605.65h2.9v2.9h-2.9zM714.04 609.75h2.9v2.9h-2.9zM717.24 605.83h2.9v2.9h-2.9zM720.43 599.28h2.9v2.9h-2.9zM723.62 604.03h2.9v2.9h-2.9zM726.81 610.05h2.9v2.9h-2.9zM730.01 613.64h2.9v2.9h-2.9zM733.20 610.76h2.9v2.9h-2.9zM736.39 602.75h2.9v2.9h-2.9zM739.58 604.51h2.9v2.9h-2.9zM742.78 612.65h2.9v2.9h-2.9zM745.97 617.59h2.9v2.9h-2.9zM749.16 609.63h2.9v2.9h-2.9zM752.35 598.00h2.9v2.9h-2.9zM755.55 601.57h2.9v2.9h-2.9zM758.74 614.97h2.9v2.9h-2.9zM761.93 619.69h2.9v2.9h-2.9zM765.12 617.16h2.9v2.9h-2.9zM768.32 605.02h2.9v2.9h-2.9zM771.51 594.19h2.9v2.9h-2.9zM774.70 602.99h2.9v2.9h-2.9zM777.89 614.76h2.9v2.9h-2.9zM781.09 619.24h2.9v2.9h-2.9zM784.28 611.89h2.9v2.9h-2.9zM787.47 596.70h2.9v2.9h-2.9zM790.66 596.86h2.9v2.9h-2.9zM793.86 604.56h2.9v2.9h-2.9zM797.05 615.85h2.9v2.9h-2.9z" fill="#e03030"/>
<rect x="608.5" y="474.5" width="167" height="46" fill="#fff" stroke="#6e6e6e" stroke-width="1"/>
<line x1="611" y1="482" x2="649" y2="482" stroke="#5b78d8" stroke-width="1.2"/>
<line x1="611" y1="496.6" x2="649" y2="496.6" stroke="#e06464" stroke-width="1.2"/>
<line x1="611" y1="510.4" x2="649" y2="510.4" stroke="#6ee060" stroke-width="1.2"/>
<text x="658.4" y="485.8" text-anchor="start" font-family='"DejaVu Sans Condensed", "DejaVu Sans", "Liberation Sans", sans-serif' font-size="10.0" fill="#1a1a1a" >Impactor VZ</text>
<text x="658.4" y="500.4" text-anchor="start" font-family='"DejaVu Sans Condensed", "DejaVu Sans", "Liberation Sans", sans-serif' font-size="10.0" fill="#1a1a1a" >Rail VZ</text>
<text x="658.4" y="514.2" text-anchor="start" font-family='"DejaVu Sans Condensed", "DejaVu Sans", "Liberation Sans", sans-serif' font-size="10.0" fill="#1a1a1a" >Impactor Total Velocity</text>
<rect x="84" y="356.0" width="729" height="1.3" fill="#333"/>
<rect x="84" y="711.3" width="729" height="1.3" fill="#444"/>
<rect x="85.5" y="1183.8" width="727.5" height="1.3" fill="#222"/>
<defs><clipPath id="figclip"><rect x="356" y="860" width="457.5" height="240"/></clipPath></defs><g clip-path="url(#figclip)">
<polygon points="356.0,988.5 360.1,987.4 364.2,986.2 368.3,985.1 372.4,984.0 372.4,992.2 368.3,993.3 364.2,994.5 360.1,995.6 356.0,996.8" fill="#3c9a5a"/>
<polygon points="356.0,996.8 360.1,995.6 364.2,994.5 368.3,993.3 372.4,992.2 372.4,1006.7 368.3,1007.9 364.2,1009.1 360.1,1010.3 356.0,1011.5" fill="#1840e0"/>
<polygon points="372.0,984.1 374.4,983.4 376.7,982.8 379.0,982.1 381.4,981.5 381.4,989.6 379.0,990.3 376.7,990.9 374.4,991.6 372.0,992.3" fill="#1a70ee"/>
<polygon points="372.0,992.3 374.4,991.6 376.7,990.9 379.0,990.3 381.4,989.6 381.4,1004.1 379.0,1004.7 376.7,1005.4 374.4,1006.1 372.0,1006.8" fill="#1464e4"/>
<polygon points="381.0,981.6 385.7,980.3 390.4,979.0 395.2,977.7 399.9,976.4 399.9,984.5 395.2,985.8 390.4,987.1 385.7,988.4 381.0,989.7" fill="#1a7af0"/>
<polygon points="381.0,989.7 385.7,988.4 390.4,987.1 395.2,985.8 399.9,984.5 399.9,999.0 395.2,1000.3 390.4,1001.5 385.7,1002.8 381.0,1004.2" fill="#1570e8"/>
<polygon points="399.5,976.5 404.2,975.2 408.9,973.8 413.7,972.5 418.4,971.2 418.4,979.5 413.7,980.7 408.9,982.0 404.2,983.3 399.5,984.6" fill="#1a66ec"/>
<polygon points="399.5,984.6 404.2,983.3 408.9,982.0 413.7,980.7 418.4,979.5 418.4,994.1 413.7,995.4 408.9,996.6 404.2,997.9 399.5,999.1" fill="#1458e0"/>
<polygon points="418.0,971.3 422.9,970.0 427.7,968.6 432.5,967.1 437.4,965.4 437.4,973.9 432.5,975.5 427.7,976.9 422.9,978.2 418.0,979.6" fill="#1020e8"/>
<polygon points="418.0,979.6 422.9,978.2 427.7,976.9 432.5,975.5 437.4,973.9 437.4,989.1 432.5,990.3 427.7,991.6 422.9,992.9 418.0,994.2" fill="#0a12e0"/>
<polygon points="437.0,965.5 441.9,963.9 446.7,962.2 451.5,960.5 456.4,958.8 456.4,967.9 451.5,969.4 446.7,971.0 441.9,972.5 437.0,974.1" fill="#0a10f0"/>
<polygon points="437.0,974.1 441.9,972.5 446.7,971.0 451.5,969.4 456.4,967.9 456.4,984.1 451.5,985.4 446.7,986.6 441.9,987.9 437.0,989.2" fill="#0808e0"/>
<polygon points="456.0,958.9 459.6,957.6 463.2,956.7 466.8,955.8 470.4,954.8 470.4,964.0 466.8,965.0 463.2,965.9 459.6,966.9 456.0,968.0" fill="#0a22e8"/>
<polygon points="456.0,968.0 459.6,966.9 463.2,965.9 466.8,965.0 470.4,964.0 470.4,980.4 466.8,981.4 463.2,982.3 459.6,983.3 456.0,984.2" fill="#0818e0"/>
<polygon points="470.0,954.9 475.1,953.6 480.2,952.3 485.3,951.0 490.4,949.7 490.4,958.8 485.3,960.1 480.2,961.5 475.1,962.8 470.0,964.2" fill="#22b8e4"/>
<polygon points="470.0,964.2 475.1,962.8 480.2,961.5 485.3,960.1 490.4,958.8 490.4,974.9 485.3,976.3 480.2,977.8 475.1,979.2 470.0,980.5" fill="#1cb0e0"/>
<polygon points="490.0,949.8 495.1,948.5 500.2,947.1 505.3,945.6 510.4,944.2 510.4,953.2 505.3,954.7 500.2,956.1 495.1,957.5 490.0,958.9" fill="#2288ea"/>
<polygon points="490.0,958.9 495.1,957.5 500.2,956.1 505.3,954.7 510.4,953.2 510.4,969.3 505.3,970.7 500.2,972.1 495.1,973.6 490.0,975.0" fill="#1878e2"/>
<polygon points="510.0,944.3 514.4,943.1 518.7,941.9 523.0,940.7 527.4,939.5 527.4,948.5 523.0,949.7 518.7,950.9 514.4,952.1 510.0,953.4" fill="#1a44ea"/>
<polygon points="510.0,953.4 514.4,952.1 518.7,950.9 523.0,949.7 527.4,948.5 527.4,964.5 523.0,965.7 518.7,967.0 514.4,968.2 510.0,969.4" fill="#1024e4"/>
<polygon points="527.0,939.6 531.6,938.2 536.2,936.0 540.8,933.9 545.4,931.7 545.4,941.3 540.8,943.3 536.2,945.3 531.6,947.2 527.0,948.6" fill="#e2146e"/>
<polygon points="527.0,948.6 531.6,947.2 536.2,945.3 540.8,943.3 545.4,941.3 545.4,958.3 540.8,960.0 536.2,961.6 531.6,963.3 527.0,964.6" fill="#d0108a"/>
<polygon points="545.0,931.9 549.4,929.9 553.7,928.7 558.0,927.5 562.4,926.3 562.4,935.5 558.0,936.9 553.7,938.3 549.4,939.6 545.0,941.4" fill="#22d050"/>
<polygon points="545.0,941.4 549.4,939.6 553.7,938.3 558.0,936.9 562.4,935.5 562.4,952.0 558.0,953.7 553.7,955.3 549.4,956.9 545.0,958.4" fill="#18c848"/>
<polygon points="562.0,926.4 566.6,925.1 571.2,923.4 575.8,921.6 580.4,919.9 580.4,928.6 575.8,930.4 571.2,932.3 566.6,934.1 562.0,935.7" fill="#f0146a"/>
<polygon points="562.0,935.7 566.6,934.1 571.2,932.3 575.8,930.4 580.4,928.6 580.4,944.1 575.8,946.1 571.2,948.1 566.6,950.1 562.0,952.1" fill="#e00072"/>
<polygon points="580.0,920.0 584.4,918.4 588.7,917.2 593.0,916.0 597.4,914.8 597.4,923.6 593.0,924.7 588.7,925.9 584.4,927.0 580.0,928.7" fill="#1a48f0"/>
<polygon points="580.0,928.7 584.4,927.0 588.7,925.9 593.0,924.7 597.4,923.6 597.4,939.1 593.0,940.2 588.7,941.3 584.4,942.4 580.0,944.2" fill="#1040e8"/>
<polygon points="597.0,914.9 602.1,913.5 607.2,912.6 612.3,911.8 617.4,910.9 617.4,920.1 612.3,920.8 607.2,921.6 602.1,922.4 597.0,923.7" fill="#f29c22"/>
<polygon points="597.0,923.7 602.1,922.4 607.2,921.6 612.3,920.8 617.4,920.1 617.4,936.3 612.3,937.0 607.2,937.6 602.1,938.2 597.0,939.2" fill="#f08c12"/>
<polygon points="617.0,911.0 622.1,910.1 627.2,909.3 632.3,908.5 637.4,907.6 637.4,916.4 632.3,917.3 627.2,918.3 622.1,919.3 617.0,920.1" fill="#22d2c8"/>
<polygon points="617.0,920.1 622.1,919.3 627.2,918.3 632.3,917.3 637.4,916.4 637.4,932.0 632.3,933.2 627.2,934.3 622.1,935.5 617.0,936.4" fill="#1cc8c0"/>
<polygon points="637.0,907.7 642.6,906.7 648.2,905.8 653.8,904.9 659.4,903.9 659.4,912.2 653.8,913.3 648.2,914.3 642.6,915.4 637.0,916.5" fill="#30d2c0"/>
<polygon points="637.0,916.5 642.6,915.4 648.2,914.3 653.8,913.3 659.4,912.2 659.4,926.9 653.8,928.2 648.2,929.5 642.6,930.8 637.0,932.1" fill="#28c8b8"/>
<polygon points="659.0,904.0 664.1,903.1 669.2,902.2 674.3,901.3 679.4,900.4 679.4,909.0 674.3,909.8 669.2,910.6 664.1,911.5 659.0,912.3" fill="#1a44f0"/>
<polygon points="659.0,912.3 664.1,911.5 669.2,910.6 674.3,909.8 679.4,909.0 679.4,924.2 674.3,924.9 669.2,925.6 664.1,926.3 659.0,927.0" fill="#1038e8"/>
<polygon points="679.0,900.5 684.4,899.6 689.7,898.6 695.0,897.7 700.4,896.8 700.4,905.6 695.0,906.5 689.7,907.4 684.4,908.2 679.0,909.1" fill="#e2e022"/>
<polygon points="679.0,909.1 684.4,908.2 689.7,907.4 695.0,906.5 700.4,905.6 700.4,921.4 695.0,922.1 689.7,922.9 684.4,923.6 679.0,924.3" fill="#d8d818"/>
<polygon points="700.0,896.8 705.4,895.9 710.7,895.0 716.0,894.0 721.4,893.1 721.4,902.3 716.0,903.1 710.7,904.0 705.4,904.8 700.0,905.7" fill="#30d070"/>
<polygon points="700.0,905.7 705.4,904.8 710.7,904.0 716.0,903.1 721.4,902.3 721.4,918.6 716.0,919.3 710.7,920.0 705.4,920.7 700.0,921.5" fill="#28c868"/>
<polygon points="721.0,893.2 725.1,892.4 729.2,891.5 733.3,890.7 737.4,889.9 737.4,898.8 733.3,899.7 729.2,900.6 725.1,901.5 721.0,902.3" fill="#1a54f0"/>
<polygon points="721.0,902.3 725.1,901.5 729.2,900.6 733.3,899.7 737.4,898.8 737.4,914.7 733.3,915.7 729.2,916.7 725.1,917.7 721.0,918.6" fill="#1448e8"/>
<polygon points="737.0,889.9 742.6,888.8 748.2,887.7 753.8,886.5 759.4,885.4 759.4,894.0 753.8,895.2 748.2,896.4 742.6,897.7 737.0,898.9" fill="#2292f0"/>
<polygon points="737.0,898.9 742.6,897.7 748.2,896.4 753.8,895.2 759.4,894.0 759.4,909.3 753.8,910.7 748.2,912.1 742.6,913.5 737.0,914.8" fill="#1a80e8"/>
<polygon points="759.0,885.4 763.4,884.6 767.7,883.7 772.0,882.8 776.4,881.7 776.4,890.3 772.0,891.2 767.7,892.2 763.4,893.1 759.0,894.1" fill="#1a64f0"/>
<polygon points="759.0,894.1 763.4,893.1 767.7,892.2 772.0,891.2 776.4,890.3 776.4,905.5 772.0,906.3 767.7,907.3 763.4,908.4 759.0,909.4" fill="#1458e8"/>
<polygon points="776.0,881.8 781.1,880.6 786.2,879.5 791.3,878.3 796.4,877.1 796.4,886.0 791.3,887.1 786.2,888.2 781.1,889.3 776.0,890.4" fill="#0a26e6"/>
<polygon points="776.0,890.4 781.1,889.3 786.2,888.2 791.3,887.1 796.4,886.0 796.4,901.8 791.3,902.8 786.2,903.7 781.1,904.6 776.0,905.6" fill="#0818dc"/>
<polygon points="796.0,877.2 800.4,876.2 804.7,875.1 809.0,874.1 813.4,873.2 813.4,882.4 809.0,883.3 804.7,884.2 800.4,885.1 796.0,886.1" fill="#2276f0"/>
<polygon points="796.0,886.1 800.4,885.1 804.7,884.2 809.0,883.3 813.4,882.4 813.4,898.8 809.0,899.5 804.7,900.3 800.4,901.1 796.0,901.9" fill="#1a68e8"/>
<polyline points="356.00,995.40 360.00,994.28 364.00,993.15 368.00,992.03 372.00,990.90 376.00,989.78 380.00,988.66 384.00,987.53 388.00,986.43 392.00,985.33 396.00,984.23 400.00,983.13 404.00,982.04 408.00,980.94 412.00,979.84 416.00,978.74 420.00,977.64 424.00,976.55 428.00,975.45 432.00,974.25 436.00,972.96 440.00,971.67 444.00,970.37 448.00,969.08 452.00,967.78 456.00,966.49 460.00,965.20 464.00,964.16 468.00,963.13 472.00,962.10 476.00,961.05 480.00,959.99 484.00,958.94 488.00,957.88 492.00,956.82 496.00,955.75 500.00,954.64 504.00,953.52 508.00,952.41 512.00,951.29 516.00,950.18 520.00,949.07 524.00,947.95 528.00,946.84 532.00,945.56 536.00,943.80 540.00,942.05 544.00,940.29 548.00,938.53 552.00,937.19 556.00,935.97 560.00,934.76 564.00,933.46 568.00,932.08 572.00,930.49 576.00,928.89 580.00,927.30 584.00,925.70 588.00,924.62 592.00,923.54 596.00,922.47 600.00,921.39 604.00,920.62 608.00,920.00 612.00,919.38 616.00,918.77 620.00,918.15 624.00,917.41 628.00,916.66 632.00,915.92 636.00,915.18 640.00,914.43 644.00,913.69 648.00,912.94 652.00,912.20 656.00,911.46 660.00,910.74 664.00,910.09 668.00,909.44 672.00,908.78 676.00,908.13 680.00,907.48 684.00,906.83 688.00,906.18 692.00,905.53 696.00,904.88 700.00,904.23 704.00,903.58 708.00,902.93 712.00,902.28 716.00,901.63 720.00,900.98 724.00,900.22 728.00,899.35 732.00,898.49 736.00,897.62 740.00,896.76 744.00,895.89 748.00,895.03 752.00,894.16 756.00,893.29 760.00,892.43 764.00,891.56 768.00,890.70 772.00,889.83 776.00,888.96 780.00,888.09 784.00,887.21 788.00,886.34 792.00,885.47 796.00,884.59 800.00,883.72 804.00,882.85 808.00,881.97 812.00,881.10" fill="none" stroke="#000" stroke-width="2.2" stroke-linejoin="round" opacity="0.16"/>
<polyline points="356.00,1003.68 360.00,1002.53 364.00,1001.38 368.00,1000.23 372.00,999.08 376.00,997.94 380.00,996.79 384.00,995.64 388.00,994.54 392.00,993.46 396.00,992.38 400.00,991.29 404.00,990.21 408.00,989.13 412.00,988.05 416.00,986.97 420.00,985.88 424.00,984.80 428.00,983.72 432.00,982.60 436.00,981.43 440.00,980.26 444.00,979.10 448.00,977.93 452.00,976.77 456.00,975.60 460.00,974.43 464.00,973.40 468.00,972.36 472.00,971.32 476.00,970.25 480.00,969.16 484.00,968.07 488.00,966.98 492.00,965.89 496.00,964.79 500.00,963.67 504.00,962.55 508.00,961.43 512.00,960.31 516.00,959.20 520.00,958.08 524.00,956.96 528.00,955.84 532.00,954.60 536.00,953.00 540.00,951.40 544.00,949.81 548.00,948.21 552.00,946.81 556.00,945.47 560.00,944.14 564.00,942.61 568.00,941.04 572.00,939.37 576.00,937.69 580.00,936.01 584.00,934.34 588.00,933.30 592.00,932.26 596.00,931.23 600.00,930.19 604.00,929.56 608.00,929.00 612.00,928.44 616.00,927.89 620.00,927.33 624.00,926.49 628.00,925.66 632.00,924.82 636.00,923.99 640.00,923.15 644.00,922.31 648.00,921.48 652.00,920.64 656.00,919.81 660.00,919.03 664.00,918.44 668.00,917.84 672.00,917.25 676.00,916.66 680.00,916.06 684.00,915.47 688.00,914.88 692.00,914.28 696.00,913.69 700.00,913.10 704.00,912.50 708.00,911.91 712.00,911.31 716.00,910.72 720.00,910.13 724.00,909.37 728.00,908.44 732.00,907.52 736.00,906.60 740.00,905.67 744.00,904.75 748.00,903.82 752.00,902.90 756.00,901.98 760.00,901.05 764.00,900.13 768.00,899.20 772.00,898.31 776.00,897.51 780.00,896.71 784.00,895.91 788.00,895.10 792.00,894.30 796.00,893.50 800.00,892.70 804.00,891.90 808.00,891.10 812.00,890.30" fill="none" stroke="#000" stroke-width="2.2" stroke-linejoin="round" opacity="0.16"/>
<line x1="372" y1="984.1" x2="373.5" y2="1006.8" stroke="#a01850" stroke-width="0.7" opacity="0.6"/>
<line x1="381" y1="981.6" x2="382.5" y2="1004.2" stroke="#a01850" stroke-width="0.7" opacity="0.6"/>
<line x1="399.5" y1="976.5" x2="401.0" y2="999.1" stroke="#a01850" stroke-width="0.7" opacity="0.6"/>
<line x1="418" y1="971.3" x2="419.5" y2="994.2" stroke="#a01850" stroke-width="0.7" opacity="0.6"/>
<line x1="437" y1="965.5" x2="438.5" y2="989.2" stroke="#a01850" stroke-width="0.7" opacity="0.6"/>
<line x1="456" y1="958.9" x2="457.5" y2="984.2" stroke="#a01850" stroke-width="0.7" opacity="0.6"/>
<line x1="470" y1="954.9" x2="471.5" y2="980.5" stroke="#a01850" stroke-width="0.7" opacity="0.6"/>
<line x1="490" y1="949.8" x2="491.5" y2="975.0" stroke="#a01850" stroke-width="0.7" opacity="0.6"/>
<line x1="510" y1="944.3" x2="511.5" y2="969.4" stroke="#a01850" stroke-width="0.7" opacity="0.6"/>
<line x1="527" y1="939.6" x2="528.5" y2="964.6" stroke="#a01850" stroke-width="0.7" opacity="0.6"/>
<line x1="545" y1="931.9" x2="546.5" y2="958.4" stroke="#a01850" stroke-width="0.7" opacity="0.6"/>
<line x1="562" y1="926.4" x2="563.5" y2="952.1" stroke="#a01850" stroke-width="0.7" opacity="0.6"/>
<line x1="580" y1="920.0" x2="581.5" y2="944.2" stroke="#a01850" stroke-width="0.7" opacity="0.6"/>
<line x1="597" y1="914.9" x2="598.5" y2="939.2" stroke="#a01850" stroke-width="0.7" opacity="0.6"/>
<line x1="617" y1="911.0" x2="618.5" y2="936.4" stroke="#a01850" stroke-width="0.7" opacity="0.6"/>
<line x1="637" y1="907.7" x2="638.5" y2="932.1" stroke="#a01850" stroke-width="0.7" opacity="0.6"/>
<line x1="659" y1="904.0" x2="660.5" y2="927.0" stroke="#a01850" stroke-width="0.7" opacity="0.6"/>
<line x1="679" y1="900.5" x2="680.5" y2="924.3" stroke="#a01850" stroke-width="0.7" opacity="0.6"/>
<line x1="700" y1="896.8" x2="701.5" y2="921.5" stroke="#a01850" stroke-width="0.7" opacity="0.6"/>
<line x1="721" y1="893.2" x2="722.5" y2="918.6" stroke="#a01850" stroke-width="0.7" opacity="0.6"/>
<line x1="737" y1="889.9" x2="738.5" y2="914.8" stroke="#a01850" stroke-width="0.7" opacity="0.6"/>
<line x1="759" y1="885.4" x2="760.5" y2="909.4" stroke="#a01850" stroke-width="0.7" opacity="0.6"/>
<line x1="776" y1="881.8" x2="777.5" y2="905.6" stroke="#a01850" stroke-width="0.7" opacity="0.6"/>
<line x1="796" y1="877.2" x2="797.5" y2="901.9" stroke="#a01850" stroke-width="0.7" opacity="0.6"/>
<polyline points="356.00,988.50 385.00,980.50 430.00,968.00 460.00,957.50 495.00,948.50 531.00,938.50 549.00,930.00 567.00,925.00 584.00,918.50 602.00,913.50 620.00,910.50 659.00,904.00 722.00,893.00 771.00,883.00 813.00,873.20" fill="none" stroke="#c8203a" stroke-width="1.0" stroke-linejoin="round" />
<polyline points="356.00,1011.50 385.00,1003.00 430.00,991.00 474.00,979.50 531.00,963.50 560.00,953.00 584.00,942.50 600.00,938.50 620.00,936.00 659.00,927.00 722.00,918.50 771.00,906.50 813.00,898.80" fill="none" stroke="#b01838" stroke-width="0.8" stroke-linejoin="round" opacity="0.8"/>
<polygon points="514.3,965 524.2,965 524.2,1003 514.3,1003" fill="#1a34c8"/>
<polygon points="524.2,965 534.1,965 534.1,1003 524.2,1003" fill="#2a7ee8"/>
<polygon points="514.3,1003 524.2,1003 524.2,1080 514.3,1077" fill="#1b7a90"/>
<polygon points="524.2,1003 534.1,1003 534.1,1078 524.2,1080" fill="#22b0d2"/>
<polyline points="514.3,965 514.3,1077 524.2,1080 534.1,1078 534.1,965" fill="none" stroke="#c82838" stroke-width="0.8"/>
<line x1="524.2" y1="1003" x2="524.2" y2="1080" stroke="#8a2040" stroke-width="0.6" opacity="0.7"/>
<polygon points="705.3,919 711.5,919 711.5,949 705.3,949" fill="#12127a"/>
<polygon points="711.5,919 723.7,919 723.7,949 711.5,949" fill="#1212e2"/>
<polygon points="705.3,949 711.5,949 711.5,1032 705.3,1031" fill="#0f6e6a"/>
<polygon points="711.5,949 723.7,949 723.7,1029 711.5,1032" fill="#14d0c0"/>
<polyline points="705.3,919 705.3,1031 711.5,1032 723.7,1029 723.7,919" fill="none" stroke="#c82838" stroke-width="0.8"/>
<line x1="711.5" y1="949" x2="711.5" y2="1032" stroke="#8a2040" stroke-width="0.6" opacity="0.7"/>
<path d="M457.8 1044.0L356.0 1013.0M457.8 1044.0L356.0 1017.0M457.8 1044.0L356.0 1021.0M457.8 1044.0L356.0 1025.0M457.8 1044.0L356.0 1028.5M457.8 1044.0L356.0 1031.5M457.8 1044.0L356.0 1034.0M457.8 1044.0L366.0 1008.1M457.8 1044.0L374.0 1005.7M457.8 1044.0L381.0 1003.7M457.8 1044.0L393.0 1000.4M457.8 1044.0L403.0 997.7M457.8 1044.0L413.0 995.0M457.8 1044.0L423.0 992.4M457.8 1044.0L436.0 988.9M457.8 1044.0L449.0 985.5M457.8 1044.0L390.7 987.0M457.8 1044.0L408.6 982.1M457.8 1044.0L428.0 976.8M457.8 1044.0L446.0 971.2M457.8 1044.0L386.0 996.5M457.8 1044.0L451.0 985.0M457.8 1044.0L463.0 981.9M457.8 1044.0L477.0 978.2M457.8 1044.0L483.1 960.7M457.8 1044.0L502.7 955.4M457.8 1044.0L518.7 950.9M457.8 1044.0L534.7 945.9M457.8 1044.0L492.0 973.4M457.8 1044.0L511.0 968.1M457.8 1044.0L527.0 963.6M457.8 1044.0L543.0 958.2M457.8 1044.0L550.7 939.2M457.8 1044.0L554.7 945.6M457.8 1044.0L558.7 952.5M457.8 1044.0L570.2 932.7M457.8 1044.0L574.2 938.1M457.8 1044.0L578.2 944.0M457.8 1044.0L588.9 925.8M457.8 1044.0L592.9 931.7M457.8 1044.0L596.9 938.3M457.8 1044.0L610.2 921.2M457.8 1044.0L614.2 927.8M457.8 1044.0L618.2 935.2M457.8 1044.0L631.8 917.4M457.8 1044.0L635.8 923.7M457.8 1044.0L639.8 930.4M457.8 1044.0L652.6 913.5M457.8 1044.0L656.6 919.4M457.8 1044.0L660.6 925.8M457.8 1044.0L672.9 910.1M457.8 1044.0L676.9 916.2M457.8 1044.0L680.9 923.0M457.8 1044.0L693.0 906.8M457.8 1044.0L697.0 913.2M457.8 1044.0L701.0 920.3M457.8 1044.0L714.4 903.4M457.8 1044.0L718.4 910.1M457.8 1044.0L722.4 917.4M457.8 1044.0L733.0 899.8M457.8 1044.0L737.0 906.1M457.8 1044.0L741.0 912.8M457.8 1044.0L752.0 895.6M457.8 1044.0L756.0 901.7M457.8 1044.0L760.0 908.2M457.8 1044.0L771.0 891.5M457.8 1044.0L775.0 897.4M457.8 1044.0L779.0 904.0M457.8 1044.0L789.5 887.5M457.8 1044.0L793.5 893.7M457.8 1044.0L797.5 900.6M457.8 1044.0L808.0 883.5M457.8 1044.0L812.0 890.0M457.8 1044.0L816.0 897.8M457.8 1044.0L812.5 899.5M457.8 1044.0L700.0 918.5M457.8 1044.0L718.0 916.0M457.8 1044.0L736.0 912.1M457.8 1044.0L754.0 907.7M457.8 1044.0L772.0 903.3M457.8 1044.0L790.0 900.0M457.8 1044.0L806.0 897.1M457.8 1044.0L600.0 918.9M457.8 1044.0L620.0 915.6M457.8 1044.0L640.0 912.0M457.8 1044.0L660.0 908.4M457.8 1044.0L680.0 905.1" stroke="#0000e6" stroke-width="1.35" fill="none"/>
<polygon points="356,1035 356,1061 450,1050.5 448,1040" fill="#0000e6"/>
<polygon points="457.8,1040.0 514,998 541,1012 459.8,1046.0" fill="#0000e6"/>
<rect x="389.7" y="985.8" width="2" height="2" fill="#fffaa0"/>
<rect x="407.6" y="980.9" width="2" height="2" fill="#fffaa0"/>
<rect x="427.0" y="975.6" width="2" height="2" fill="#fffaa0"/>
<rect x="445.0" y="970.0" width="2" height="2" fill="#fffaa0"/>
<rect x="464.7" y="964.1" width="2" height="2" fill="#fffaa0"/>
<rect x="482.1" y="959.5" width="2" height="2" fill="#fffaa0"/>
<rect x="501.7" y="954.2" width="2" height="2" fill="#fffaa0"/>
<rect x="517.7" y="949.7" width="2" height="2" fill="#fffaa0"/>
<rect x="533.7" y="944.7" width="2" height="2" fill="#fffaa0"/>
<rect x="549.7" y="938.0" width="2" height="2" fill="#fffaa0"/>
<rect x="569.2" y="931.5" width="2" height="2" fill="#fffaa0"/>
<rect x="587.9" y="924.6" width="2" height="2" fill="#fffaa0"/>
<rect x="609.2" y="920.0" width="2" height="2" fill="#fffaa0"/>
<rect x="630.8" y="916.2" width="2" height="2" fill="#fffaa0"/>
<rect x="651.6" y="912.3" width="2" height="2" fill="#fffaa0"/>
<rect x="671.9" y="908.9" width="2" height="2" fill="#fffaa0"/>
<rect x="692.0" y="905.6" width="2" height="2" fill="#fffaa0"/>
<rect x="713.4" y="902.2" width="2" height="2" fill="#fffaa0"/>
<rect x="732.0" y="898.6" width="2" height="2" fill="#fffaa0"/>
<rect x="751.0" y="894.4" width="2" height="2" fill="#fffaa0"/>
<rect x="770.0" y="890.3" width="2" height="2" fill="#fffaa0"/>
<rect x="788.5" y="886.3" width="2" height="2" fill="#fffaa0"/>
<rect x="807.0" y="882.3" width="2" height="2" fill="#fffaa0"/>
<defs><radialGradient id="sph" cx="0.5" cy="0.5" r="0.5"><stop offset="0" stop-color="#5ff6f2"/><stop offset="0.5" stop-color="#1fb4b0"/><stop offset="0.85" stop-color="#138c8c"/><stop offset="1" stop-color="#0b6466"/></radialGradient></defs>
<circle cx="457.8" cy="1044.0" r="11" fill="url(#sph)"/>
</g>
<rect x="365" y="895.10" width="19.8" height="10.09" fill="#ff00ff"/>
<rect x="365" y="904.89" width="19.8" height="10.09" fill="#ff00b4"/>
<rect x="365" y="914.69" width="19.8" height="10.09" fill="#ff0078"/>
<rect x="365" y="924.48" width="19.8" height="10.09" fill="#ff003c"/>
<rect x="365" y="934.28" width="19.8" height="10.09" fill="#ff2000"/>
<rect x="365" y="944.07" width="19.8" height="10.09" fill="#ff6400"/>
<rect x="365" y="953.87" width="19.8" height="10.09" fill="#ffac00"/>
<rect x="365" y="963.66" width="19.8" height="10.09" fill="#fff000"/>
<rect x="365" y="973.46" width="19.8" height="10.09" fill="#c6ff00"/>
<rect x="365" y="983.25" width="19.8" height="10.09" fill="#82ff00"/>
<rect x="365" y="993.05" width="19.8" height="10.09" fill="#3cff00"/>
<rect x="365" y="1002.84" width="19.8" height="10.09" fill="#00f000"/>
<rect x="365" y="1012.64" width="19.8" height="10.09" fill="#00f050"/>
<rect x="365" y="1022.43" width="19.8" height="10.09" fill="#00f094"/>
<rect x="365" y="1032.23" width="19.8" height="10.09" fill="#00f0da"/>
<rect x="365" y="1042.02" width="19.8" height="10.09" fill="#00d2f8"/>
<rect x="365" y="1051.82" width="19.8" height="10.09" fill="#0094f4"/>
<rect x="365" y="1061.61" width="19.8" height="10.09" fill="#0050ff"/>
<rect x="365" y="1071.41" width="19.8" height="10.09" fill="#0000ff"/>
<text x="392.6" y="894.9" text-anchor="start" font-family='"DejaVu Sans Condensed", "DejaVu Sans", "Liberation Sans", sans-serif' font-size="10.2" fill="#1a1a1a" >0.73178 [Bm:40]</text>
<text x="392.6" y="908.3" text-anchor="start" font-family='"DejaVu Sans Condensed", "DejaVu Sans", "Liberation Sans", sans-serif' font-size="10.2" fill="#1a1a1a" >0.693266</text>
<text x="392.6" y="928.1" text-anchor="start" font-family='"DejaVu Sans Condensed", "DejaVu Sans", "Liberation Sans", sans-serif' font-size="10.2" fill="#1a1a1a" >0.616236</text>
<text x="392.6" y="947.9" text-anchor="start" font-family='"DejaVu Sans Condensed", "DejaVu Sans", "Liberation Sans", sans-serif' font-size="10.2" fill="#1a1a1a" >0.539207</text>
<text x="392.6" y="967.5" text-anchor="start" font-family='"DejaVu Sans Condensed", "DejaVu Sans", "Liberation Sans", sans-serif' font-size="10.2" fill="#1a1a1a" >0.462177</text>
<text x="392.6" y="987.2" text-anchor="start" font-family='"DejaVu Sans Condensed", "DejaVu Sans", "Liberation Sans", sans-serif' font-size="10.2" fill="#1a1a1a" >0.385148</text>
<text x="392.6" y="1006.7" text-anchor="start" font-family='"DejaVu Sans Condensed", "DejaVu Sans", "Liberation Sans", sans-serif' font-size="10.2" fill="#1a1a1a" >0.308118</text>
<text x="392.6" y="1026.4" text-anchor="start" font-family='"DejaVu Sans Condensed", "DejaVu Sans", "Liberation Sans", sans-serif' font-size="10.2" fill="#1a1a1a" >0.231089</text>
<text x="392.6" y="1046.0" text-anchor="start" font-family='"DejaVu Sans Condensed", "DejaVu Sans", "Liberation Sans", sans-serif' font-size="10.2" fill="#1a1a1a" >0.154059</text>
<text x="392.6" y="1066.2" text-anchor="start" font-family='"DejaVu Sans Condensed", "DejaVu Sans", "Liberation Sans", sans-serif' font-size="10.2" fill="#1a1a1a" >0.0770295</text>
<text x="392.6" y="1090.4" text-anchor="start" font-family='"DejaVu Sans Condensed", "DejaVu Sans", "Liberation Sans", sans-serif' font-size="10.2" fill="#1a1a1a" >0.0 [Bm:122,Nd:39]</text>
<text x="367.5" y="877.0" text-anchor="start" font-family='"DejaVu Sans Condensed", "DejaVu Sans", "Liberation Sans", sans-serif' font-size="10.2" fill="#1a1a1a" xml:space="preserve">Beam Stored Strain Energy Density&#160; (J/mm)</text>
<rect x="365" y="879.6" width="205" height="1.1" fill="#222"/>
<text x="368.0" y="1115.3" text-anchor="start" font-family='"DejaVu Sans Condensed", "DejaVu Sans", "Liberation Sans", sans-serif' font-size="10.3" fill="#1a1a1a" >Beam Energy Sum: 2120.81 J</text>
</svg>
<div class="title" style="top:44.72px">Strand7 Webnotes – Applications / Automotive</div>
<div class="sub" style="top:67.61px">ST7-1.40.70.22 Guard Rail Impact Analysis</div>
<div class="h" style="top:333.92px">Velocities</div>
<div class="h" style="top:688.62px">Energy</div>
<div class="b j" style="top:365.77px;left:86.5px;width:726.9px;">The velocity of the impactor and rail are shown below.&nbsp; Note that the impactor velocity reverses sign as it</div>
<div class="b j" style="top:385.19px;left:86.5px;width:726.9px;">bounces off the rail.&nbsp; Initial total velocity is 27.78 m/s, with 8.98 m/s directed at the wall.&nbsp; This drops to 20.39</div>
<div class="b j" style="top:404.61px;left:86.5px;width:726.9px;">m/s after impact, for a kinetic energy drop of about 46%.&nbsp; Note that this model does not consider the crushing of</div>
<div class="b j" style="top:424.03px;left:86.5px;width:726.9px;">the impactor, nor the deformation of the guard rail cross-section; exit velocities will drop when these effects are</div>
<div class="b l" style="top:443.45px;left:86.5px;width:726.9px;">considered as they will absorb energy.</div>
<div class="b j" style="top:720.87px;left:86.5px;width:726.9px;">There are two types of strain energy: <b>Stored</b> and <b>Spent</b>.&nbsp; <b>Stored</b> is the current amount of stored elastic energy in</div>
<div class="b j" style="top:740.07px;left:86.5px;width:726.9px;">the elements (i.e. the amount of energy that can be elastically recovered).&nbsp; <b>Spent</b> is the current elastic <i>and</i></div>
<div class="b l" style="top:759.27px;left:86.5px;width:726.9px;">plastic energy in the element.&nbsp; Thus the total dissipated energy is spent minus stored.</div>
<div class="b j" style="top:787.67px;left:86.5px;width:726.9px;">Note that in nonlinear analysis, contact elements which are not active are hidden by default.&nbsp; To correctly</div>
<div class="b j" style="top:807.42px;left:86.5px;width:726.9px;">display the total energy (including energy dissipated by friction), they must be shown.&nbsp; This can be changed in</div>
<div class="b l" style="top:827.17px;left:86.5px;width:726.9px;"><b>Results/Options</b>, by setting <b>Inactive Contacts and Cutoff Bars</b> to <b>Show</b>.</div>
<div class="b j" style="top:863.57px;left:86.5px;width:255.0px;">Contours of <b>Energy Density</b> are shown</div>
<div class="b j" style="top:883.02px;left:86.5px;width:255.0px;">at right.&nbsp; This contouring option</div>
<div class="b j" style="top:902.47px;left:86.5px;width:255.0px;">becomes available when the beam</div>
<div class="b j" style="top:921.92px;left:86.5px;width:255.0px;">strain results are saved in the solver</div>
<div class="b j" style="top:941.37px;left:86.5px;width:255.0px;"><b>Results</b> tab.&nbsp; They show the distribution</div>
<div class="b j" style="top:960.82px;left:86.5px;width:255.0px;">of energy as well as a sum total for all</div>
<div class="b l" style="top:980.27px;left:86.5px;width:255.0px;">displayed elements.</div>
<div class="b j" style="top:1008.87px;left:86.5px;width:255.0px;">The sum total integral of the energy</div>
<div class="b j" style="top:1028.12px;left:86.5px;width:255.0px;">density is shown below the contour.&nbsp; In</div>
<div class="b j" style="top:1047.37px;left:86.5px;width:255.0px;">this case, the spent energy is about</div>
<div class="b j" style="top:1066.62px;left:86.5px;width:255.0px;"><span style="display:inline-block">143 kJ.</span>&nbsp; The kinetic energy of the</div>
<div class="b j" style="top:1085.87px;left:86.5px;width:255.0px;">impactor (calculated manually from the</div>
<div class="b j" style="top:1105.12px;left:86.5px;width:255.0px;">velocities) drops from 316 kJ to 167 kJ,</div>
<div class="b l" style="top:1124.37px;left:86.5px;width:255.0px;">a decrease of 150 kJ.</div>
<div class="ft" style="top:1189.12px;left:86.5px">©Strand7 Pty Limited</div>
<div class="ft" style="top:1188.85px;left:398.8px;color:#3f63c4;font-size:13.6px;letter-spacing:0.15px">www.strand7.com</div>
<div class="ft" style="top:1189.22px;left:798.5px;letter-spacing:0.4px">14</div>
<div class="fr" style="left:0;top:0;width:900px;height:2px"></div>
<div class="fr" style="left:0;top:0;width:1px;height:1272px"></div>
<div class="fr" style="left:899px;top:0;width:1px;height:1272px"></div>
</div></body></html>
